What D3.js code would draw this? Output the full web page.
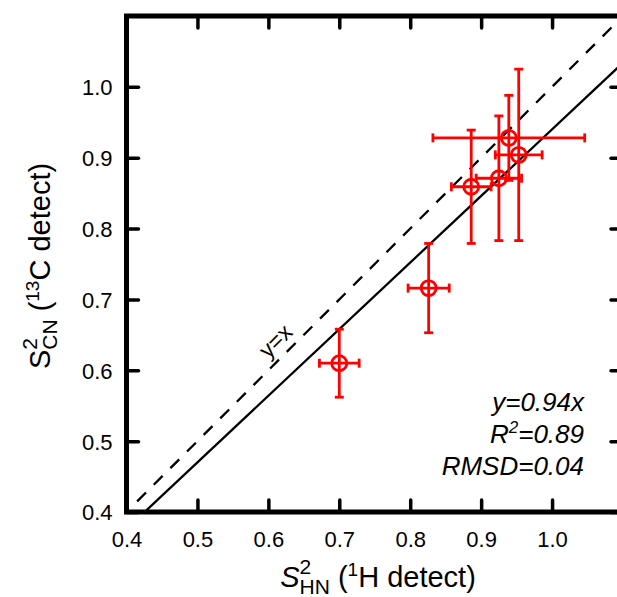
<!DOCTYPE html>
<html>
<head>
<meta charset="utf-8">
<script src="https://cdn.jsdelivr.net/npm/d3@7"></script>
<style>
  body { margin: 0; background: #fff; }
  svg { display: block; font-family: "Liberation Sans", Arial, Helvetica, sans-serif; }
</style>
</head>
<body>
<svg id="chart" width="617" height="597"></svg>
<script>
// data
const xVals = [0.700, 0.826, 0.886, 0.925, 0.939, 0.953];
const yVals = [0.610, 0.716, 0.859, 0.871, 0.928, 0.904];
const xErr = [0.028, 0.029, 0.028, 0.032, 0.107, 0.033];
const yErr = [0.048, 0.063, 0.080, 0.088, 0.060, 0.121];
const ticks = [0.4, 0.5, 0.6, 0.7, 0.8, 0.9, 1.0];
const fitSlope = 0.94;
const fitText = ["y=0.94x", "R", "=0.89", "RMSD=0.04"];

const svg = d3.select("#chart");
const pLeft = 126.5, pRight = 623, pTop = 16, pBottom = 512;

const x = d3.scaleLinear().domain([0.4, 1.1]).range([pLeft, pRight]);
const y = d3.scaleLinear().domain([0.4, 1.1]).range([pBottom, pTop]);

svg.append("clipPath").attr("id", "plot")
  .append("rect")
    .attr("x", pLeft).attr("y", pTop)
    .attr("width", pRight - pLeft).attr("height", pBottom - pTop);

// axes with inward ticks
const fmt = d3.format(".1f");
const tickLen = 12;

const styleAxis = (g) => {
  g.select(".domain").remove();
  g.selectAll(".tick line")
    .attr("stroke", "#000")
    .attr("stroke-width", 3.5)
    .attr("stroke-linecap", "round");
  g.selectAll(".tick text")
    .attr("fill", "#000")
    .attr("font-size", 22);
};

svg.append("g")
  .attr("transform", `translate(0,${pBottom})`)
  .call(d3.axisBottom(x).tickValues(ticks).tickFormat(fmt).tickSizeInner(-tickLen).tickPadding(tickLen + 2))
  .call(styleAxis)
  .selectAll(".tick text").attr("dy", "0.95em");

svg.append("g")
  .attr("transform", `translate(0,${pTop})`)
  .call(d3.axisTop(x).tickValues(ticks).tickFormat("").tickSizeInner(-tickLen))
  .call(styleAxis);

svg.append("g")
  .attr("transform", `translate(${pLeft},0)`)
  .call(d3.axisLeft(y).tickValues(ticks).tickFormat(fmt).tickSizeInner(-tickLen).tickPadding(tickLen + 2))
  .call(styleAxis)
  .selectAll(".tick text").attr("dy", "0.36em");

svg.append("g")
  .attr("transform", `translate(${pRight},0)`)
  .call(d3.axisRight(y).tickValues(ticks).tickFormat("").tickSizeInner(-tickLen))
  .call(styleAxis);

// frame
svg.append("rect")
  .attr("x", pLeft).attr("y", pTop)
  .attr("width", pRight - pLeft).attr("height", pBottom - pTop)
  .attr("fill", "none")
  .attr("stroke", "#000")
  .attr("stroke-width", 5);

// y = x (dashed) and fit line (solid)
svg.append("line")
  .attr("x1", x(0.415)).attr("y1", y(0.415))
  .attr("x2", x(1.085)).attr("y2", y(1.085))
  .attr("stroke", "#000")
  .attr("stroke-width", 2.3)
  .attr("stroke-dasharray", "12.5,11");

svg.append("line")
  .attr("clip-path", "url(#plot)")
  .attr("x1", x(0.4)).attr("y1", y(0.4 * fitSlope))
  .attr("x2", x(1.1)).attr("y2", y(1.1 * fitSlope))
  .attr("stroke", "#000")
  .attr("stroke-width", 2.3);

svg.append("text")
  .attr("transform", `translate(${x(0.625) - 5},${y(0.625) - 6}) rotate(-45)`)
  .attr("text-anchor", "middle")
  .attr("font-size", 23)
  .text("y=x");

// error bars and markers
const red = "#ff0000";
const cap = 4.5;
const pts = svg.append("g").attr("stroke", red).attr("stroke-width", 2.8).attr("fill", "none");

xVals.forEach((xv, i) => {
  const cx = x(xv), cy = y(yVals[i]);
  const x0 = x(xv - xErr[i]), x1 = x(xv + xErr[i]);
  const y0 = y(yVals[i] - yErr[i]), y1 = y(yVals[i] + yErr[i]);
  const g = pts.append("g");
  g.append("line").attr("x1", x0).attr("x2", x1).attr("y1", cy).attr("y2", cy);
  g.append("line").attr("x1", x0).attr("x2", x0).attr("y1", cy - cap).attr("y2", cy + cap);
  g.append("line").attr("x1", x1).attr("x2", x1).attr("y1", cy - cap).attr("y2", cy + cap);
  g.append("line").attr("x1", cx).attr("x2", cx).attr("y1", y0).attr("y2", y1);
  g.append("line").attr("x1", cx - cap).attr("x2", cx + cap).attr("y1", y0).attr("y2", y0);
  g.append("line").attr("x1", cx - cap).attr("x2", cx + cap).attr("y1", y1).attr("y2", y1);
  g.append("circle").attr("cx", cx).attr("cy", cy).attr("r", 7.5);
});

// fit statistics
const stats = svg.append("g")
  .attr("font-size", 26)
  .attr("font-style", "italic")
  .attr("text-anchor", "end");
stats.append("text").attr("x", 584).attr("y", 411).text(fitText[0]);
const r2 = stats.append("text").attr("x", 584).attr("y", 443);
r2.append("tspan").text(fitText[1]);
r2.append("tspan").attr("font-size", 17).attr("dy", -10).text("2");
r2.append("tspan").attr("dy", 10).text(fitText[2]);
stats.append("text").attr("x", 584).attr("y", 475).text(fitText[3]);

// axis titles
const xt = svg.append("text")
  .attr("x", 378).attr("y", 587)
  .attr("text-anchor", "middle")
  .attr("font-size", 29);
xt.append("tspan").attr("font-style", "italic").text("S");
xt.append("tspan").attr("font-size", 21).attr("dy", -13).text("2");
xt.append("tspan").attr("font-size", 21).attr("dx", -11.7).attr("dy", 20).text("HN");
xt.append("tspan").attr("dy", -7).text(" (");
xt.append("tspan").attr("font-size", 19).attr("dy", -11).text("1");
xt.append("tspan").attr("dy", 11).text("H detect)");

const yt = svg.append("text")
  .attr("transform", "translate(50,266) rotate(-90)")
  .attr("text-anchor", "middle")
  .attr("font-size", 29);
yt.append("tspan").text("S");
yt.append("tspan").attr("font-size", 21).attr("dy", -13).text("2");
yt.append("tspan").attr("font-size", 21).attr("dx", -11.7).attr("dy", 20).text("CN");
yt.append("tspan").attr("dy", -7).text(" (");
yt.append("tspan").attr("font-size", 19).attr("dy", -11).text("13");
yt.append("tspan").attr("dy", 11).text("C detect)");
</script>
</body>
</html>
